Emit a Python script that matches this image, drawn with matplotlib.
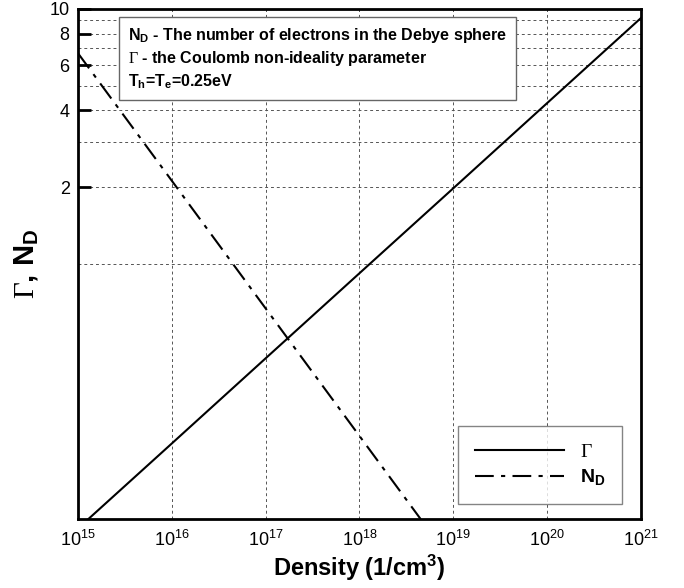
import matplotlib
matplotlib.use('Agg')
import matplotlib.pyplot as plt
from matplotlib.ticker import FixedLocator, NullFormatter

plt.rcParams['font.family'] = 'Liberation Sans'
plt.rcParams['mathtext.fontset'] = 'custom'
plt.rcParams['mathtext.rm'] = 'Liberation Serif'
plt.rcParams['mathtext.sf'] = 'Liberation Sans'
plt.rcParams['mathtext.bf'] = 'Liberation Sans:bold'

# datos
density = [1e15, 1e16, 1e17, 1e18, 1e19, 1e20, 1e21]
gamma = [0.092, 0.198, 0.427, 0.92, 1.98, 4.27, 9.2]
nd_density = [1e15, 1e16, 1e17, 1e18, 4.5e18]
n_d = [6.7, 2.12, 0.67, 0.212, 0.1]

x_ticks = [1e15, 1e16, 1e17, 1e18, 1e19, 1e20, 1e21]
x_labels = [r'$\mathsf{10^{%d}}$' % e for e in range(15, 22)]
y_ticks = [2, 4, 6, 8, 10]
y_minor = [1, 3, 5, 7, 9]

fig = plt.figure(figsize=(6.84, 5.88), dpi=100)
ax = fig.add_axes([0.114, 0.117, 0.823, 0.868])

ax.plot(density, gamma, color='black', lw=1.5, label=r'$\Gamma$')
ax.plot(nd_density, n_d, color='black', lw=1.5, linestyle=(0, (9, 3.5, 2, 3.5)),
        label=r'$\mathbf{N_D}$')

ax.set_xscale('log')
ax.set_yscale('log')
ax.set_xlim(1e15, 1e21)
ax.set_ylim(0.1, 10)

ax.xaxis.set_major_locator(FixedLocator(x_ticks))
ax.set_xticklabels(x_labels)
ax.xaxis.set_minor_locator(FixedLocator([]))
ax.yaxis.set_major_locator(FixedLocator(y_ticks))
ax.set_yticklabels([str(v) for v in y_ticks])
ax.yaxis.set_minor_locator(FixedLocator(y_minor))
ax.yaxis.set_minor_formatter(NullFormatter())

ax.tick_params(axis='x', which='both', length=0, labelsize=13, pad=8)
ax.tick_params(axis='y', which='major', direction='in', length=9, width=2,
               labelsize=13, pad=6)
ax.tick_params(axis='y', which='minor', length=0)

ax.grid(True, which='major', axis='x', linestyle=(0, (3, 3)), color='#555555', lw=0.7)
ax.grid(True, which='both', axis='y', linestyle=(0, (3, 3)), color='#555555', lw=0.7)

for s in ax.spines.values():
    s.set_linewidth(2)

ax.set_xlabel(r'Density (1/cm$\mathbf{^3}$)', fontsize=17, fontweight='bold', labelpad=2)
ax.set_ylabel(r'$\Gamma$, $\mathbf{N_D}$', fontsize=21, fontweight='bold', labelpad=6)

texto = (r'$\mathbf{N_D}$ - The number of electrons in the Debye sphere' + '\n'
         r'$\Gamma$ - the Coulomb non-ideality parameter' + '\n'
         r'$\mathbf{T_h}$=$\mathbf{T_e}$=0.25eV')
ax.text(0.089, 0.967, texto, transform=ax.transAxes, fontsize=11.5,
        fontweight='bold', va='top', ha='left', linespacing=1.3,
        bbox=dict(boxstyle='square,pad=0.55', facecolor='white',
                  edgecolor='#666666', lw=1))

leg = ax.legend(loc='lower right', bbox_to_anchor=(0.966, 0.03), fontsize=14,
                fancybox=False, edgecolor='#666666', handlelength=4.6,
                borderpad=0.85, labelspacing=0.35, handletextpad=0.8,
                borderaxespad=0)
leg.get_frame().set_linewidth(1)

plt.savefig('out.png', dpi=100)
